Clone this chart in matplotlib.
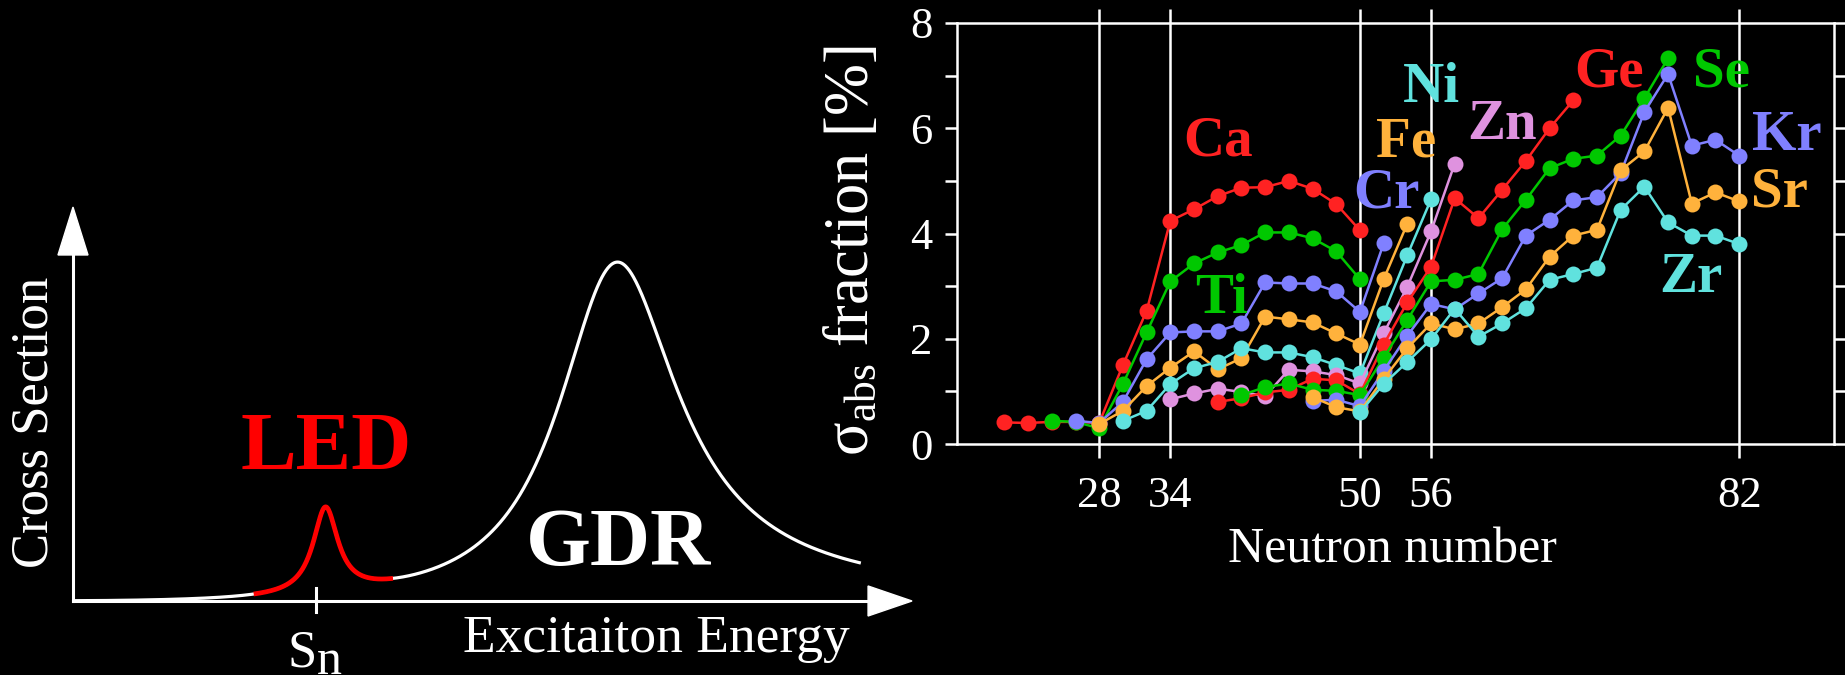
import numpy as np
import matplotlib
matplotlib.use("Agg")
import matplotlib.pyplot as plt
from matplotlib.patches import Polygon

plt.rcParams["font.family"] = ["Liberation Serif", "DejaVu Serif"]
plt.rcParams["mathtext.fontset"] = "custom"
plt.rcParams["mathtext.rm"] = "Liberation Serif"
plt.rcParams["mathtext.it"] = "Liberation Serif:italic"
plt.rcParams["mathtext.bf"] = "Liberation Serif:bold"

# ---------------------------------------------------------------------------
# Right panel: absorption cross-section fraction along isotope chains
# ---------------------------------------------------------------------------
ca_n = [20, 22, 24, 26, 28, 30, 32, 34, 36, 38, 40, 42, 44, 46, 48, 50]
ca_v = [0.41, 0.40, 0.42, 0.42, 0.40, 1.50, 2.53, 4.24, 4.46, 4.71, 4.87, 4.88, 5.00, 4.85, 4.56, 4.06]

ti_n = [24, 26, 28, 30, 32, 34, 36, 38, 40, 42, 44, 46, 48, 50]
ti_v = [0.44, 0.42, 0.30, 1.14, 2.12, 3.09, 3.43, 3.64, 3.78, 4.02, 4.02, 3.91, 3.66, 3.13]

cr_n = [26, 28, 30, 32, 34, 36, 38, 40, 42, 44, 46, 48, 50, 52]
cr_v = [0.44, 0.40, 0.80, 1.61, 2.12, 2.14, 2.14, 2.29, 3.07, 3.05, 3.05, 2.90, 2.51, 3.81]

fe_n = [28, 30, 32, 34, 36, 38, 40, 42, 44, 46, 48, 50, 52, 54]
fe_v = [0.38, 0.63, 1.10, 1.45, 1.76, 1.42, 1.63, 2.42, 2.37, 2.31, 2.10, 1.89, 3.13, 4.19]

ni_n = [30, 32, 34, 36, 38, 40, 42, 44, 46, 48, 50, 52, 54, 56]
ni_v = [0.44, 0.63, 1.14, 1.44, 1.56, 1.82, 1.74, 1.74, 1.65, 1.50, 1.34, 2.48, 3.59, 4.65]

zn_n = [34, 36, 38, 40, 42, 44, 46, 48, 50, 52, 54, 56, 58]
zn_v = [0.85, 0.96, 1.05, 0.99, 0.91, 1.41, 1.38, 1.31, 1.15, 2.10, 2.99, 4.04, 5.33]

ge_n = [38, 40, 42, 44, 46, 48, 50, 52, 54, 56, 58, 60, 62, 64, 66, 68]
ge_v = [0.80, 0.87, 0.98, 1.03, 1.24, 1.21, 0.95, 1.89, 2.69, 3.37, 4.67, 4.29, 4.83, 5.38, 6.00, 6.53]

se_n = [40, 42, 44, 46, 48, 50, 52, 54, 56, 58, 60, 62, 64, 66, 68, 70, 72, 74, 76]
se_v = [0.93, 1.08, 1.15, 1.03, 1.01, 0.93, 1.64, 2.36, 3.09, 3.12, 3.23, 4.08, 4.64, 5.24, 5.42, 5.48, 5.86, 6.57, 7.33]

kr_n = [46, 48, 50, 52, 54, 56, 58, 60, 62, 64, 66, 68, 70, 72, 74, 76, 78, 80, 82]
kr_v = [0.82, 0.84, 0.72, 1.39, 2.06, 2.66, 2.56, 2.86, 3.15, 3.96, 4.26, 4.63, 4.69, 5.15, 6.31, 7.03, 5.67, 5.78, 5.48]

sr_n = [46, 48, 50, 52, 54, 56, 58, 60, 62, 64, 66, 68, 70, 72, 74, 76, 78, 80, 82]
sr_v = [0.89, 0.70, 0.62, 1.24, 1.82, 2.29, 2.18, 2.29, 2.60, 2.94, 3.56, 3.96, 4.07, 5.20, 5.56, 6.39, 4.57, 4.78, 4.61]

zr_n = [50, 52, 54, 56, 58, 60, 62, 64, 66, 68, 70, 72, 74, 76, 78, 80, 82]
zr_v = [0.60, 1.14, 1.56, 1.99, 2.57, 2.04, 2.29, 2.58, 3.12, 3.23, 3.35, 4.45, 4.89, 4.21, 3.96, 3.96, 3.80]

RED = "#ff2222"
GREEN = "#00c800"
BLUE = "#8080ff"
ORANGE = "#ffb23c"
CYAN = "#60e2de"
PINK = "#df92df"

chains = [
    ("Ca", ca_n, ca_v, RED),
    ("Ti", ti_n, ti_v, GREEN),
    ("Cr", cr_n, cr_v, BLUE),
    ("Fe", fe_n, fe_v, ORANGE),
    ("Ni", ni_n, ni_v, CYAN),
    ("Zn", zn_n, zn_v, PINK),
    ("Ge", ge_n, ge_v, RED),
    ("Se", se_n, se_v, GREEN),
    ("Kr", kr_n, kr_v, BLUE),
    ("Sr", sr_n, sr_v, ORANGE),
    ("Zr", zr_n, zr_v, CYAN),
]

# element name placement (neutron number, fraction at baseline)
label_pos = {
    "Ca": (38.0, 5.48), "Ti": (38.3, 2.49), "Cr": (52.2, 4.49),
    "Fe": (53.9, 5.46), "Ni": (56.0, 6.50), "Zn": (62.0, 5.80),
    "Ge": (71.0, 6.79), "Se": (80.5, 6.79), "Kr": (86.0, 5.59),
    "Sr": (85.4, 4.51), "Zr": (77.9, 2.89),
}

magic_numbers = [28, 34, 50, 56, 82]
y_major = [0, 2, 4, 6, 8]
y_minor = [1, 3, 5, 7]

# ---------------------------------------------------------------------------
# Left panel: schematic excitation spectrum (LED + GDR)
# ---------------------------------------------------------------------------
GDR_CENTER, GDR_WIDTH, GDR_HEIGHT = 6.49, 1.74, 8.64
LED_CENTER, LED_WIDTH, LED_HEIGHT = 3.01, 0.18, 2.19
LED_RANGE = (2.15, 3.82)
SN_ENERGY = 2.896
E_END = 9.39

W, H = 1845, 675
fig = plt.figure(figsize=(W / 100, H / 100), dpi=100, facecolor="black")

# ----- left schematic -----
axl = fig.add_axes([0, 0, 920 / W, 480 / H])
axl.set_facecolor("black")
axl.set_xlim(-0.870, 10.095)
axl.set_ylim(-1.888, 10.357)
axl.axis("off")


def gdr(e):
    return GDR_HEIGHT * (e * GDR_WIDTH) ** 2 / ((e ** 2 - GDR_CENTER ** 2) ** 2 + (e * GDR_WIDTH) ** 2)


def led(e):
    return LED_HEIGHT / (1 + ((e - LED_CENTER) / LED_WIDTH) ** 2)


energy = np.linspace(0, E_END, 1200)
sigma = gdr(energy) + led(energy)
axl.plot(energy, sigma, color="white", lw=2.3, solid_capstyle="butt", zorder=3)
sel = (energy >= LED_RANGE[0]) & (energy <= LED_RANGE[1])
axl.plot(energy[sel], sigma[sel], color="#ff0000", lw=3.4, solid_capstyle="butt", zorder=4)

# axes arrows
axl.plot([0, 9.5], [0, 0], color="white", lw=2.2, zorder=2)
axl.plot([0, 0], [0, 8.9], color="white", lw=2.2, zorder=2)
axl.add_patch(Polygon([[10.0, 0], [9.476, 0.383], [9.476, -0.383]], closed=True,
                      color="white", zorder=2))
axl.add_patch(Polygon([[0, 10.05], [-0.179, 8.827], [0.179, 8.827]], closed=True,
                      color="white", zorder=2, clip_on=False))
axl.plot([SN_ENERGY, SN_ENERGY], [0.33, -0.28], color="white", lw=2.2, zorder=2)

axl.text(3.016, 3.367, "LED", color="#ff0000", fontsize=60, fontweight="bold",
         ha="center", va="baseline")
axl.text(6.496, 0.918, "GDR", color="white", fontsize=60, fontweight="bold",
         ha="center", va="baseline")
axl.text(2.735, -1.66, "S", color="white", fontsize=38, ha="center", va="baseline")
axl.text(3.051, -1.86, "n", color="white", fontsize=36, ha="center", va="baseline")
axl.text(6.955, -1.293, "Excitaiton Energy", color="white", fontsize=38.5,
         ha="center", va="baseline")
axl.text(-0.464, 4.566, "Cross Section", color="white", fontsize=38,
         rotation=90, ha="center", va="center")

# ----- right data panel -----
ax = fig.add_axes([957 / W, 1 - 444 / H, 877 / W, 421 / H])
ax.set_facecolor("black")
ax.set_xlim(16, 90)
ax.set_ylim(0, 8)

for name, n, v, c in chains:
    ax.plot(n, v, "-o", color=c, lw=1.8, ms=11.5, mew=0, zorder=3)
    lx, ly = label_pos[name]
    ax.text(lx, ly, name, color=c, fontsize=41, fontweight="bold",
            ha="center", va="baseline", zorder=5)

for s in ax.spines.values():
    s.set_color("white")
    s.set_linewidth(1.8)

ax.set_xticks(magic_numbers)
ax.set_xticklabels([str(m) for m in magic_numbers])
ax.set_yticks(y_major)
ax.set_yticks(y_minor, minor=True)
ax.tick_params(axis="x", which="both", direction="out", length=10, width=1.8,
               color="white", labelcolor="white", labelsize=32, top=True,
               bottom=True, pad=12.8)
ax.tick_params(axis="y", which="both", direction="out", length=8.6, width=1.8,
               color="white", labelcolor="white", labelsize=32, left=True,
               right=True, pad=9)
ax.grid(axis="x", color="white", lw=1.8, zorder=1)
ax.set_axisbelow(True)

ax.set_xlabel("Neutron number", color="white", fontsize=36)
ax.xaxis.set_label_coords(0.496, -0.196)
ax.set_ylabel(r"$\mathrm{σ}_{\mathrm{abs}}$ fraction [%]", color="white", fontsize=45)
ax.yaxis.set_label_coords(-0.086, 0.46)

fig.savefig("out.png", dpi=100, facecolor="black")
